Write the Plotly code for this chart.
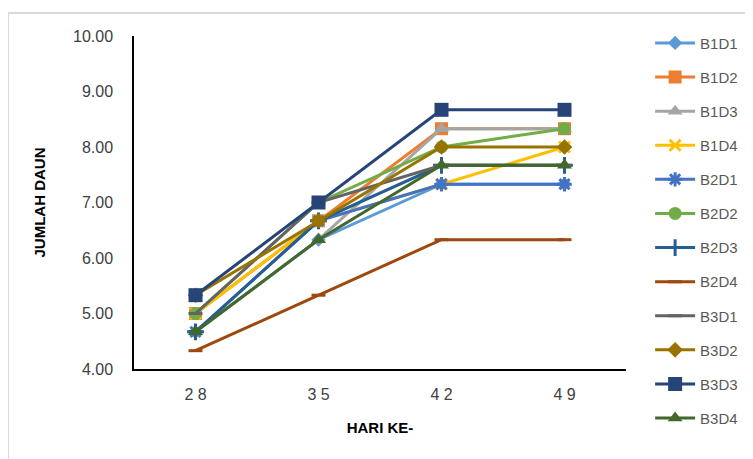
import plotly.graph_objects as go

days = ["2 8", "3 5", "4 2", "4 9"]
series_names = ["B1D1", "B1D2", "B1D3", "B1D4", "B2D1", "B2D2",
                "B2D3", "B2D4", "B3D1", "B3D2", "B3D3", "B3D4"]
B1D1 = [4.67, 6.33, 7.33, 7.33]
B1D2 = [5.00, 6.67, 8.33, 8.33]
B1D3 = [4.67, 6.33, 8.33, 8.33]
B1D4 = [5.00, 6.67, 7.33, 8.00]
B2D1 = [4.67, 6.67, 7.33, 7.33]
B2D2 = [5.00, 7.00, 8.00, 8.33]
B2D3 = [4.67, 6.67, 7.67, 7.67]
B2D4 = [4.33, 5.33, 6.33, 6.33]
B3D1 = [5.00, 7.00, 7.67, 7.67]
B3D2 = [5.33, 6.67, 8.00, 8.00]
B3D3 = [5.33, 7.00, 8.67, 8.67]
B3D4 = [4.67, 6.33, 7.67, 7.67]
values = [B1D1, B1D2, B1D3, B1D4, B2D1, B2D2, B2D3, B2D4, B3D1, B3D2, B3D3, B3D4]

colors = ["#5B9BD5", "#ED7D31", "#A5A5A5", "#FFC000", "#4472C4", "#70AD47",
          "#255E91", "#9E480E", "#636363", "#997300", "#264478", "#43682B"]
symbols = ["diamond", "square", "triangle-up", "x-thin", "asterisk", "circle",
           "cross-thin", "line-ew", "line-ew", "diamond", "square", "triangle-up"]
sizes = [11, 13, 13, 11, 12, 13, 12, 10, 10, 12, 14, 13]

fig = go.Figure()
for i, name in enumerate(series_names):
    sym = symbols[i]
    thin = sym in ("x-thin", "asterisk", "cross-thin", "line-ew")
    fig.add_trace(go.Scatter(
        x=days, y=values[i], name=name, mode="lines+markers",
        legendgroup=name,
        line=dict(color=colors[i], width=3),
        marker=dict(symbol=sym, size=sizes[i], color=colors[i],
                    line=dict(color=colors[i], width=3 if thin else 0)),
    ))

fig.update_layout(
    width=745, height=451,
    margin=dict(l=126, r=127, t=28, b=90, autoexpand=False),
    paper_bgcolor="white", plot_bgcolor="white",
    font=dict(family="Liberation Sans, Arial, sans-serif", color="#404040"),
    showlegend=True,
    legend=dict(x=1.049, xanchor="left", y=1.028, yanchor="top",
                font=dict(size=15, color="#595959"), maxheight=450,
                tracegroupgap=11.6, itemwidth=40, bgcolor="rgba(0,0,0,0)"),
    xaxis=dict(type="category", range=[-0.5, 3.5], showline=True,
               linecolor="black", linewidth=1.5, showgrid=False, ticks="",
               tickfont=dict(size=16, color="#404040"), ticklabelstandoff=10,
               title=dict(text="<b>HARI KE-</b>", font=dict(size=15, color="black"),
                          standoff=21)),
    yaxis=dict(range=[4, 10], dtick=1, tickformat=".2f", showline=True,
               linecolor="black", linewidth=1.5, showgrid=False, ticks="",
               tickfont=dict(size=16, color="#404040"), zeroline=False,
               ticklabelstandoff=16,
               title=dict(text="<b>JUMLAH DAUN</b>", font=dict(size=15, color="black"),
                          standoff=24)),
    shapes=[dict(type="rect", xref="paper", yref="paper",
                 x0=-0.256, x1=1.3, y0=-0.4, y1=1.069,
                 line=dict(color="#D9D9D9", width=2), layer="below")],
)

fig.write_html("out.html")
